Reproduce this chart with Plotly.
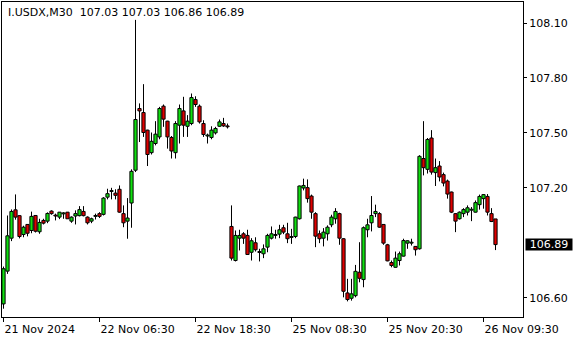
import plotly.graph_objects as go

symbol = "I.USDX,M30"
bar_index = list(range(124))

opens = [106.566, 106.745, 106.925, 107.080, 107.048, 106.945, 107.000, 106.967, 107.049, 106.960,
         107.022, 107.018, 107.073, 107.051, 107.040, 107.058, 107.067, 107.018, 107.046, 107.048,
         107.071, 107.040, 107.018, 107.044, 107.059, 107.055, 107.149, 107.180, 107.171, 107.192,
         107.059, 107.018, 107.117, 107.296, 107.633, 107.611, 107.515, 107.392, 107.442, 107.478,
         107.646, 107.564, 107.475, 107.392, 107.542, 107.620, 107.536, 107.551, 107.682, 107.646,
         107.551, 107.483, 107.475, 107.500, 107.536, 107.551, 107.538, 106.989, 106.803, 106.925,
         106.949, 106.940, 106.848, 106.900, 106.852, 106.840, 106.876, 106.925, 106.940, 106.947,
         106.982, 106.949, 106.929, 106.934, 107.031, 107.199, 107.201, 107.155, 107.059, 106.949,
         106.925, 106.949, 106.998, 107.031, 107.059, 106.922, 106.626, 106.597, 106.611, 106.739,
         106.699, 106.971, 107.009, 107.059, 107.059, 107.000, 106.889, 106.792, 106.766, 106.803,
         106.827, 106.898, 106.898, 106.880, 106.867, 107.360, 107.301, 107.472, 107.283, 107.319,
         107.272, 107.237, 107.177, 107.059, 107.031, 107.059, 107.067, 107.078, 107.067, 107.108,
         107.141, 107.153, 107.059, 107.030]
highs = [106.770, 107.049, 107.082, 107.164, 107.050, 106.993, 107.002, 107.070, 107.051, 107.031,
         107.031, 107.066, 107.077, 107.059, 107.068, 107.067, 107.068, 107.044, 107.077, 107.100,
         107.100, 107.044, 107.037, 107.059, 107.067, 107.149, 107.195, 107.200, 107.192, 107.213,
         107.104, 107.144, 107.301, 108.117, 107.661, 107.766, 107.517, 107.502, 107.564, 107.642,
         107.655, 107.566, 107.483, 107.564, 107.655, 107.697, 107.597, 107.715, 107.700, 107.655,
         107.569, 107.496, 107.536, 107.533, 107.573, 107.582, 107.551, 107.104, 106.967, 106.971,
         106.958, 106.971, 106.925, 106.930, 106.867, 106.891, 106.949, 106.989, 106.971, 106.998,
         106.998, 107.009, 106.976, 107.042, 107.212, 107.250, 107.246, 107.163, 107.067, 106.967,
         106.980, 106.995, 107.053, 107.089, 107.064, 106.925, 106.703, 106.703, 106.779, 106.903,
         106.989, 107.031, 107.155, 107.108, 107.067, 107.002, 106.894, 106.803, 106.852, 106.852,
         106.922, 106.913, 106.922, 106.882, 107.378, 107.564, 107.472, 107.515, 107.360, 107.346,
         107.283, 107.245, 107.179, 107.062, 107.071, 107.089, 107.104, 107.095, 107.131, 107.163,
         107.166, 107.166, 107.089, 107.030]
lows = [106.540, 106.730, 106.909, 107.026, 106.924, 106.930, 106.935, 106.952, 106.956, 106.949,
        107.000, 107.007, 107.053, 107.022, 107.029, 107.031, 107.031, 107.009, 107.000, 107.044,
        107.044, 107.000, 107.007, 107.027, 107.035, 107.049, 107.137, 107.137, 107.137, 107.064,
        106.985, 106.922, 106.982, 107.286, 107.450, 107.478, 107.319, 107.382, 107.432, 107.465,
        107.533, 107.414, 107.360, 107.360, 107.442, 107.478, 107.478, 107.542, 107.642, 107.551,
        107.478, 107.442, 107.465, 107.491, 107.533, 107.533, 107.524, 106.803, 106.798, 106.858,
        106.894, 106.836, 106.803, 106.852, 106.798, 106.816, 106.848, 106.918, 106.922, 106.925,
        106.947, 106.898, 106.894, 106.925, 107.027, 107.186, 107.119, 107.031, 106.876, 106.898,
        106.880, 106.912, 106.985, 107.004, 106.889, 106.602, 106.580, 106.584, 106.602, 106.684,
        106.657, 106.930, 106.962, 107.040, 106.982, 106.889, 106.799, 106.766, 106.764, 106.776,
        106.825, 106.867, 106.885, 106.830, 106.863, 107.268, 107.278, 107.272, 107.210, 107.235,
        107.208, 107.141, 107.062, 106.958, 107.027, 107.040, 107.049, 107.018, 107.065, 107.081,
        107.086, 107.049, 107.013, 106.860]
closes = [106.758, 106.938, 107.071, 107.040, 106.934, 106.985, 106.952, 107.044, 106.963, 107.011,
          107.007, 107.060, 107.059, 107.046, 107.067, 107.063, 107.031, 107.040, 107.059, 107.081,
          107.048, 107.009, 107.031, 107.049, 107.044, 107.144, 107.168, 107.185, 107.159, 107.067,
          107.009, 107.035, 107.290, 107.573, 107.620, 107.502, 107.382, 107.454, 107.493, 107.633,
          107.575, 107.478, 107.401, 107.551, 107.633, 107.542, 107.564, 107.693, 107.655, 107.560,
          107.491, 107.488, 107.515, 107.524, 107.560, 107.538, 107.533, 106.816, 106.940, 106.940,
          106.925, 106.836, 106.911, 106.862, 106.847, 106.867, 106.940, 106.949, 106.945, 106.971,
          106.958, 106.922, 106.934, 107.040, 107.210, 107.213, 107.141, 107.067, 106.936, 106.922,
          106.958, 106.985, 107.040, 107.071, 106.925, 106.635, 106.590, 106.621, 106.744, 106.706,
          106.982, 106.998, 107.049, 107.071, 106.985, 106.898, 106.801, 106.776, 106.816, 106.840,
          106.912, 106.911, 106.903, 106.862, 107.372, 107.310, 107.464, 107.286, 107.310, 107.259,
          107.226, 107.166, 107.067, 107.018, 107.067, 107.081, 107.091, 107.083, 107.119, 107.153,
          107.163, 107.067, 107.016, 106.890]

tick_bars = [0, 24, 48, 72, 96, 120]
tick_labels = ["21 Nov 2024", "22 Nov 06:30", "22 Nov 18:30",
               "25 Nov 08:30", "25 Nov 20:30", "26 Nov 09:30"]
price_ticks = [106.60, 107.20, 107.50, 107.80, 108.10]
last_ohlc = [107.03, 107.03, 106.86, 106.89]

BULL = "#10e010"
BEAR = "#e00000"
FONT = "DejaVu Sans"

bases = [min(o, c) for o, c in zip(opens, closes)]
heights = [abs(c - o) for o, c in zip(opens, closes)]
colors = [BULL if c > o else BEAR for o, c in zip(opens, closes)]

# wicks split into upper and lower parts so they do not cross the bodies
wx, wy = [], []
for i, o, h, l, c in zip(bar_index, opens, highs, lows, closes):
    top, bot = max(o, c), min(o, c)
    if h > top:
        wx += [i, i, None]
        wy += [top, h, None]
    if l < bot:
        wx += [i, i, None]
        wy += [l, bot, None]

fig = go.Figure()
fig.add_trace(go.Bar(
    x=bar_index, y=heights, base=bases, width=0.8,
    marker=dict(color=colors, line=dict(color="black", width=1)),
    hoverinfo="skip", showlegend=False))
fig.add_trace(go.Scatter(
    x=wx, y=wy, mode="lines", line=dict(color="black", width=1),
    hoverinfo="skip", showlegend=False))

fig.update_layout(
    width=580, height=340,
    margin=dict(l=2, r=57, t=2, b=23),
    paper_bgcolor="white", plot_bgcolor="white",
    barmode="overlay",
    font=dict(family=FONT, size=11, color="black"),
    xaxis=dict(range=[-0.375, 129.875], showgrid=False, zeroline=False,
               showline=True, mirror=True, linecolor="black", linewidth=1,
               tickmode="array", tickvals=tick_bars, ticktext=tick_labels,
               ticks="outside", ticklen=4, tickcolor="black",
               ticklabelposition="outside right", ticklabelstandoff=2,
               tickfont=dict(family=FONT, size=11, color="black")),
    yaxis=dict(range=[106.4946, 108.2147], side="right", showgrid=False,
               zeroline=False, showline=True, mirror=True, linecolor="black",
               linewidth=1, tickmode="array", tickvals=price_ticks,
               ticktext=[f"{v:.2f}" for v in price_ticks],
               ticks="outside", ticklen=3, tickcolor="black",
               tickfont=dict(family=FONT, size=11, color="black")),
)

header = symbol + "\u00a0\u00a0" + " ".join(f"{v:.2f}" for v in last_ohlc)
fig.add_annotation(text=header, xref="paper", yref="paper", x=0, y=1,
                   xanchor="left", yanchor="top", xshift=4, yshift=-2,
                   showarrow=False, font=dict(family=FONT, size=11, color="black"))
fig.add_annotation(text=f"{last_ohlc[3]:.2f}", xref="paper", yref="y",
                   x=1, y=last_ohlc[3], xanchor="left", yanchor="middle",
                   xshift=2, showarrow=False, bgcolor="black", borderpad=0,
                   width=46, height=11,
                   font=dict(family=FONT, size=11, color="white"))

fig.write_html("out.html")
